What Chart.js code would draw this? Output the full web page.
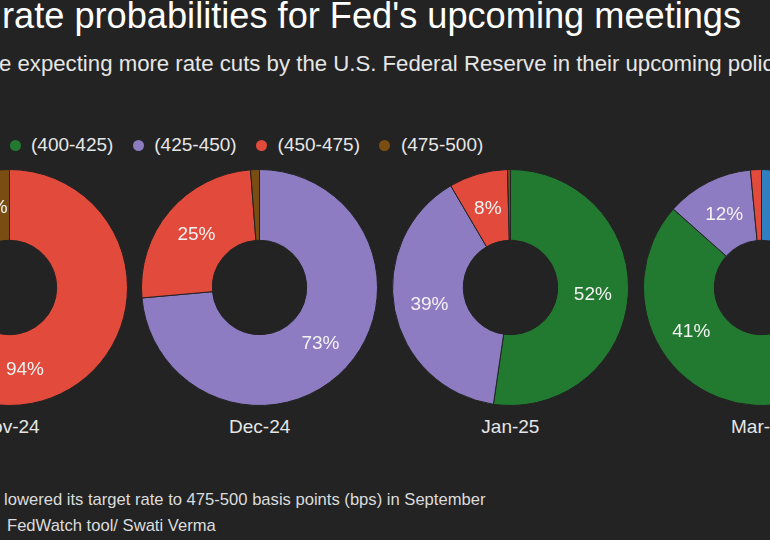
<!DOCTYPE html>
<html>
<head>
<meta charset="utf-8">
<script src="https://cdn.jsdelivr.net/npm/chart.js@4.4.1/dist/chart.umd.min.js"></script>
<style>
  html, body { margin: 0; padding: 0; }
  body { width: 770px; height: 540px; overflow: hidden; background: #232323; position: relative;
         font-family: "Liberation Sans", Arial, Helvetica, sans-serif; }
  .txt { position: absolute; white-space: nowrap; line-height: 1; }
  canvas { position: absolute; }
  .dot { position: absolute; border-radius: 50%; }
</style>
</head>
<body>
<div id="root"></div>
<script>
// ---- data ----
const meetings = ['Nov-24', 'Dec-24', 'Jan-25', 'Mar-25'];
const rateBuckets = ['(375-400)', '(400-425)', '(425-450)', '(450-475)', '(475-500)'];
const p375_400 = [0, 0, 0, 46];
const p400_425 = [0, 0, 52, 41];
const p425_450 = [0, 73, 39, 12];
const p450_475 = [94, 25, 8, 1.5];
const p475_500 = [6, 1.2, 0.4, 0];
const titleText = "rate probabilities for Fed's upcoming meetings";
const subtitleText = 'e expecting more rate cuts by the U.S. Federal Reserve in their upcoming policy meetings';
const note1 = 'lowered its target rate to 475-500 basis points (bps) in September';
const note2 = 'FedWatch tool/ Swati Verma';

// ---- styles ----
const BG = '#232323';
const colors = ['#2f7fc1', '#227a31', '#8e7cc3', '#e24a3b', '#7a4e12'];
const series = [p375_400, p400_425, p425_450, p450_475, p475_500];

const root = document.getElementById('root');
function addText(text, left, baseline, size, color, align) {
  const d = document.createElement('div');
  d.className = 'txt';
  d.textContent = text;
  d.style.fontSize = size + 'px';
  d.style.color = color;
  d.style.top = (baseline - 0.8465 * size) + 'px';
  d.style.left = left + 'px';
  if (align === 'center') d.style.transform = 'translateX(-50%)';
  root.appendChild(d);
  return d;
}

addText(titleText, 2, 29, 36.2, '#ffffff');
addText(subtitleText, -1, 72, 22.2, '#e6e6e6');

// legend
rateBuckets.forEach((b, i) => {
  const cx = 15 + (i - 1) * 123.3;
  const dot = document.createElement('div');
  dot.className = 'dot';
  dot.style.width = '11px'; dot.style.height = '11px';
  dot.style.left = (cx - 5.5) + 'px';
  dot.style.top = (145 - 5.5) + 'px';
  dot.style.background = colors[i];
  root.appendChild(dot);
  addText(b, cx + 16, 151, 19, '#e6e6e6');
});

// footnotes
addText(note1, 4, 506, 16.6, '#dcdcdc');
addText(note2, 7, 532, 16.6, '#dcdcdc');

// donuts
const centerY = 287;
const firstCX = 9;
const stepX = 250.7;
const SIZE = 237;

const labelPlugin = {
  id: 'pctLabels',
  afterDatasetsDraw(chart) {
    const ctx = chart.ctx;
    const ds = chart.data.datasets[0];
    const meta = chart.getDatasetMeta(0);
    ctx.save();
    ctx.font = '19px "Liberation Sans", Arial, sans-serif';
    ctx.fillStyle = '#f2f2f2';
    ctx.textAlign = 'center';
    ctx.textBaseline = 'middle';
    meta.data.forEach((arc, i) => {
      const v = ds.data[i];
      if (v >= 5) {
        const p = arc.getCenterPoint();
        ctx.fillText(Math.round(v) + '%', p.x, p.y + 1);
      }
    });
    ctx.restore();
  }
};

meetings.forEach((m, k) => {
  const cx = firstCX + k * stepX;
  const c = document.createElement('canvas');
  c.width = SIZE; c.height = SIZE;
  c.style.width = SIZE + 'px'; c.style.height = SIZE + 'px';
  c.style.left = (cx - SIZE / 2) + 'px';
  c.style.top = (centerY - SIZE / 2) + 'px';
  root.appendChild(c);
  new Chart(c.getContext('2d'), {
    type: 'doughnut',
    data: {
      labels: rateBuckets,
      datasets: [{
        data: series.map(s => s[k]),
        backgroundColor: colors,
        borderColor: BG,
        borderWidth: 1
      }]
    },
    options: {
      responsive: false,
      animation: false,
      devicePixelRatio: 1,
      cutout: '40%',
      layout: { padding: 0 },
      plugins: { legend: { display: false }, tooltip: { enabled: false } }
    },
    plugins: [labelPlugin]
  });
  addText(m, cx, 433, 19, '#e6e6e6', 'center');
});
</script>
</body>
</html>
